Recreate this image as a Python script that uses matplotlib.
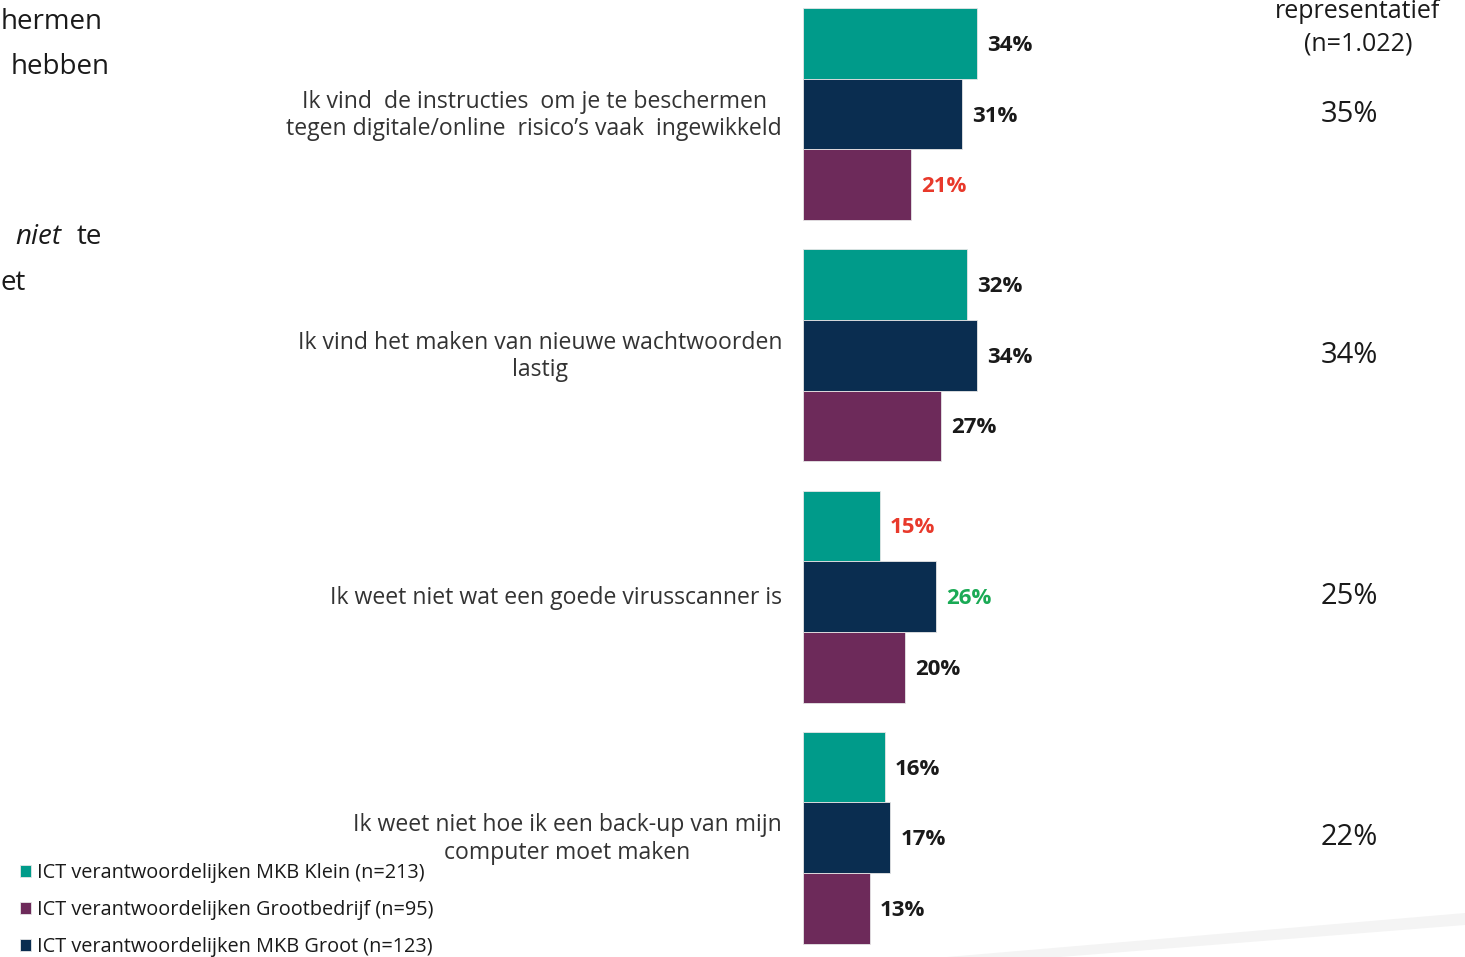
import matplotlib
matplotlib.use("Agg")
import matplotlib.pyplot as plt
from matplotlib.patches import Polygon
import numpy as np

plt.rcParams['font.family'] = ['Open Sans', 'DejaVu Sans']

categories = [
    "Ik vind  de instructies  om je te beschermen\ntegen digitale/online  risico’s vaak  ingewikkeld",
    "Ik vind het maken van nieuwe wachtwoorden\nlastig",
    "Ik weet niet wat een goede virusscanner is",
    "Ik weet niet hoe ik een back-up van mijn\ncomputer moet maken",
]
series_names = [
    "ICT verantwoordelijken MKB Klein (n=213)",
    "ICT verantwoordelijken MKB Groot (n=123)",
    "ICT verantwoordelijken Grootbedrijf (n=95)",
]
mkb_klein = [34, 32, 15, 16]
mkb_groot = [31, 34, 26, 17]
grootbedrijf = [21, 27, 20, 13]
representatief = [35, 34, 25, 22]
rep_header = ["representatief", "(n=1.022)"]
# label colours per series (highlighted differences)
klein_label_colors = ["#1a1a1a", "#1a1a1a", "#e8392b", "#1a1a1a"]
groot_label_colors = ["#1a1a1a", "#1a1a1a", "#1aaa55", "#1a1a1a"]
grootbedrijf_label_colors = ["#e8392b", "#1a1a1a", "#1a1a1a", "#1a1a1a"]

colors = ["#009b8a", "#0a2d50", "#6d2a5a"]

W, H = 1465, 957
fig = plt.figure(figsize=(W / 100, H / 100), dpi=100)
fig.patch.set_facecolor("white")

# decorative faint swoosh bottom right
sw = Polygon([[947 / W, 0], [1465 / W, 1 - 913 / H], [1465 / W, 1 - 925 / H], [1060 / W, 0]],
             closed=True, transform=fig.transFigure, facecolor="#f4f4f4", edgecolor="none", zorder=0)
fig.patches.append(sw)

px_per_unit = 5.12
left_px = 803
ax = fig.add_axes([left_px / W, 0, (W - left_px) / W, 1])
ax.set_xlim(0, (W - left_px) / px_per_unit)
ax.set_ylim(3.494, -0.473)
ax.axis("off")

y = np.arange(len(categories))
h = 0.293
series = [mkb_klein, mkb_groot, grootbedrijf]
label_cols = [klein_label_colors, groot_label_colors, grootbedrijf_label_colors]
offsets = [-h, 0, h]
bars = []
for vals, off, col, lc, name in zip(series, offsets, colors, label_cols, series_names):
    b = ax.barh(y + off, vals, height=h, color=col, edgecolor="#e6e6e6", linewidth=0.6, label=name)
    bars.append(b)
    for yi, v, c in zip(y + off, vals, lc):
        ax.text(v + 2.0, yi + 0.008, f"{v}%", ha="left", va="center", fontsize=16,
                fontweight="bold", color=c)

# category labels
for yi, cat in zip(y, categories):
    ax.text(-(left_px - 782) / px_per_unit, yi + 0.005, cat, ha="right", va="center",
            multialignment="center", fontsize=16.6, color="#333333", linespacing=1.2)

# representative column
rep_x = (1349 - left_px) / px_per_unit
for yi, v in zip(y, representatief):
    ax.text(rep_x, yi, f"{v}%", ha="center", va="center", fontsize=21, color="#1a1a1a")
fig.text(1358 / W, 1 - 12 / H, rep_header[0], ha="center", va="center", fontsize=18, color="#1a1a1a")
fig.text(1358 / W, 1 - 44 / H, rep_header[1], ha="center", va="center", fontsize=18, color="#1a1a1a")

# text fragments visible at the left edge
fig.text(1 / W, 1 - 22 / H, "hermen", ha="left", va="center", fontsize=20, color="#1a1a1a")
fig.text(11 / W, 1 - 67 / H, "hebben", ha="left", va="center", fontsize=20, color="#1a1a1a")
fig.text(15 / W, 1 - 237 / H, "niet", ha="left", va="center", fontsize=20, color="#1a1a1a", style="italic")
fig.text(77 / W, 1 - 237 / H, "te", ha="left", va="center", fontsize=20, color="#1a1a1a")
fig.text(1 / W, 1 - 283 / H, "et", ha="left", va="center", fontsize=20, color="#1a1a1a")

# legend (order: Klein, Grootbedrijf, Groot)
leg = fig.legend([bars[0], bars[2], bars[1]], [series_names[0], series_names[2], series_names[1]],
                 loc="upper left", bbox_to_anchor=(12 / W, 1 - 855 / H), frameon=False,
                 fontsize=14.3, handlelength=0.55, handleheight=0.55, handletextpad=0.3,
                 labelspacing=0.86, borderaxespad=0)
for t in leg.get_texts():
    t.set_color("#1a1a1a")

fig.savefig("out.png", dpi=100)
